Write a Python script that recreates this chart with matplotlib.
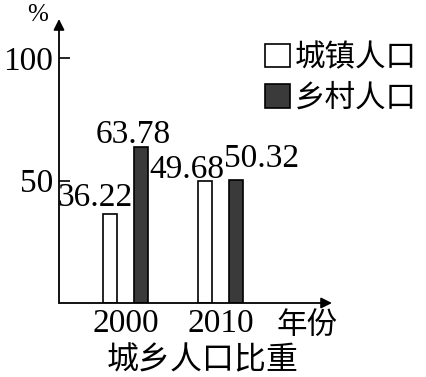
import matplotlib.pyplot as plt
import numpy as np
from matplotlib.patches import Patch

# data
years = ['2000', '2010']
urban = [36.22, 49.68]
rural = [63.78, 50.32]
series_names = ['城镇人口', '乡村人口']
title = '城乡人口比重'

plt.rcParams['font.family'] = ['Liberation Serif', 'Noto Sans CJK SC', 'DejaVu Sans']
cjk = ['Noto Sans CJK SC', 'DejaVu Sans']

W, H = 426, 377
fig = plt.figure(figsize=(W / 100, H / 100), dpi=100)
# axes placed in pixel terms: x axis from px 59 to 332, zero at y=303, top at y=19
ax = fig.add_axes([59 / W, (H - 303) / H, (332 - 59) / W, (303 - 19) / H])

x = np.arange(len(years))
bw = 0.15
ax.bar(x - 0.17, urban, bw, color='white', edgecolor='black', linewidth=1.2, zorder=2)
ax.bar(x + 0.16, rural, bw, color='#3a3a3a', edgecolor='black', linewidth=1.2, zorder=2)

ax.set_xlim(-0.705, 2.168)
ax.set_ylim(0, 116)

for s in ax.spines.values():
    s.set_visible(False)

# axes with arrows
ax.annotate('', xy=(0, 1.0), xytext=(0, 0), xycoords='axes fraction',
            arrowprops=dict(arrowstyle='-|>', color='black', lw=1.3, mutation_scale=16,
                            shrinkA=0, shrinkB=0))
ax.annotate('', xy=(1.0, 0), xytext=(0, 0), xycoords='axes fraction',
            arrowprops=dict(arrowstyle='-|>', color='black', lw=1.3, mutation_scale=16,
                            shrinkA=0, shrinkB=0))

ax.set_yticks([50, 100])
ax.tick_params(axis='y', direction='in', length=8, width=1.2, pad=4, labelsize=24)
ax.set_xticks(x)
ax.set_xticklabels(years)
ax.tick_params(axis='x', length=0, pad=4, labelsize=24)

# value labels
offsets_u = [(-15, 17), (-18, 12)]
offsets_r = [(-8, 12), (25, 21)]
for i in range(len(years)):
    ax.annotate(f'{urban[i]:.2f}', (x[i] - 0.17, urban[i]), xytext=offsets_u[i],
                textcoords='offset pixels', ha='center', va='center', fontsize=24)
    ax.annotate(f'{rural[i]:.2f}', (x[i] + 0.16, rural[i]), xytext=offsets_r[i],
                textcoords='offset pixels', ha='center', va='center', fontsize=24)

fig.text(38 / W, 1 - 15 / H, '%', ha='center', va='center', fontsize=18)
fig.text(307 / W, 1 - 325 / H, '年份', ha='center', va='center', fontsize=22, family=cjk)
fig.text(203 / W, 1 - 360 / H, title, ha='center', va='center', fontsize=23, family=cjk)

# legend
handles = [Patch(facecolor='white', edgecolor='black', linewidth=1.2),
           Patch(facecolor='#3a3a3a', edgecolor='black', linewidth=1.2)]
fig.legend(handles, series_names, loc='upper left', bbox_to_anchor=(265 / W, 1 - 42 / H),
           frameon=False, borderpad=0, borderaxespad=0, handlelength=0.82, handleheight=0.82,
           handletextpad=0.15, labelspacing=0.32, prop={'family': cjk, 'size': 22})

fig.savefig('out.png', dpi=100)
